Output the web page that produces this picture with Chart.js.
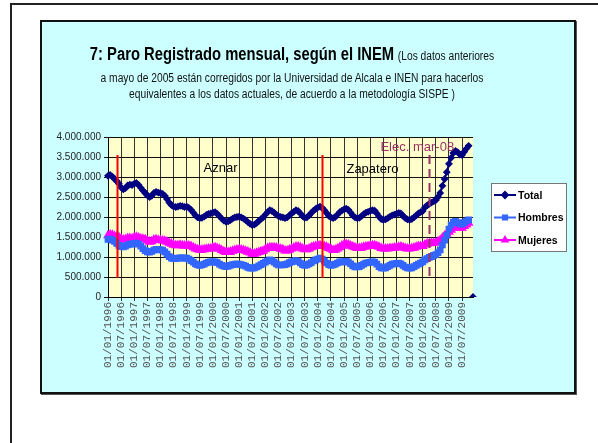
<!DOCTYPE html>
<html>
<head>
<meta charset="utf-8">
<script src="https://cdn.jsdelivr.net/npm/chart.js@4.4.1/dist/chart.umd.min.js"></script>
<style>
  body { margin:0; background:#fff; width:598px; height:443px; overflow:hidden; position:relative; font-family:"Liberation Sans", Arial, sans-serif; }
  #marco { position:absolute; left:10px; top:3px; width:700px; height:600px; border:2px solid #222; }
  #caja { position:absolute; left:40px; top:20px; width:532px; height:370px; background:#ccffff; border:2px solid #111; box-shadow:1px 1px 0 #555; }
  #grafico { position:absolute; left:0; top:0; }
  .tit { position:absolute; left:0; width:500px; text-align:center; white-space:nowrap; transform:scaleX(0.82); color:#111; }
  .big { font-weight:bold; font-size:18px; color:#000; }
  .small { font-size:12.5px; }
</style>
</head>
<body>
<div id="marco"></div>
<div id="caja">
  <canvas id="grafico" width="532" height="370"></canvas>
  <div class="tit" style="top:22px;line-height:20px"><span class="big">7: Paro Registrado mensual, según el INEM</span> <span class="small">(Los datos anteriores</span></div>
  <div class="tit small" style="top:48px;line-height:16px">a mayo de 2005 están corregidos por la Universidad de Alcala e INEN para hacerlos</div>
  <div class="tit small" style="top:64px;line-height:16px">equivalentes a los datos actuales, de acuerdo a la metodología SISPE )</div>
</div>
<script>
// etiquetas mensuales 01/01/1996 ... 01/12/2009
var meses = [];
for (var a = 1996; a <= 2009; a++) {
  for (var m = 1; m <= 12; m++) {
    meses.push('01/' + (m < 10 ? '0' + m : m) + '/' + a);
  }
}

// paro registrado, en miles
var total = [
  3030,3050,3010,2950,2900,2830,2740,2690,2720,2790,2810,2800, // 1996
  2830,2850,2800,2730,2660,2600,2540,2500,2530,2600,2630,2610, // 1997
  2600,2580,2530,2450,2360,2300,2260,2250,2260,2280,2270,2250, // 1998
  2260,2230,2180,2110,2040,1990,1970,1980,2010,2050,2080,2090, // 1999
  2110,2120,2080,2020,1960,1910,1880,1890,1920,1960,1990,2000, // 2000
  2010,1990,1960,1920,1870,1830,1800,1810,1850,1900,1950,1990, // 2001
  2060,2120,2170,2150,2110,2060,2020,2000,1990,1970,1990,2040, // 2002
  2090,2130,2170,2150,2090,2020,1980,1990,2040,2100,2160,2200, // 2003
  2240,2260,2230,2170,2100,2030,1990,1970,2000,2060,2120,2160, // 2004
  2190,2210,2180,2110,2040,1990,1970,1980,2020,2070,2110,2130, // 2005
  2150,2170,2160,2090,2010,1950,1930,1940,1970,2010,2040,2060, // 2006
  2080,2100,2090,2030,1970,1940,1930,1950,1990,2040,2090,2120, // 2007
  2150,2240,2290,2330,2360,2390,2420,2500,2600,2780,2950,3120, // 2008
  3330,3480,3600,3650,3620,3560,3550,3630,3710,3780,null,0     // 2009
];
var hombres = [
  1440,1450,1420,1390,1340,1290,1260,1250,1270,1300,1320,1320, // 1996
  1340,1350,1320,1270,1210,1160,1130,1120,1140,1170,1190,1190, // 1997
  1180,1170,1130,1070,1010,970,960,960,970,980,980,970,        // 1998
  970,950,910,870,830,800,790,800,820,850,870,880,             // 1999
  880,880,860,820,790,770,760,770,790,810,820,820,             // 2000
  820,810,790,770,740,720,720,730,750,780,810,840,             // 2001
  870,900,930,910,870,830,800,800,800,810,830,860,             // 2002
  880,900,910,890,850,810,790,800,830,860,900,930,             // 2003
  950,970,950,900,850,810,790,800,820,850,880,880,             // 2004
  880,890,870,830,780,750,750,760,790,820,850,860,             // 2005
  870,880,870,820,760,730,720,730,760,790,820,830,             // 2006
  840,850,830,790,750,730,720,730,760,790,820,850,             // 2007
  880,930,960,990,1010,1040,1060,1110,1180,1300,1420,1540,     // 2008
  1700,1800,1870,1890,1860,1830,1820,1860,1900,1930,null,null  // 2009
];
var mujeres = [
  1540,1560,1550,1520,1510,1490,1450,1430,1440,1470,1470,1460, // 1996
  1490,1500,1480,1460,1450,1440,1410,1380,1390,1430,1440,1420, // 1997
  1420,1410,1400,1380,1350,1330,1300,1290,1290,1300,1290,1280, // 1998
  1290,1280,1270,1240,1210,1190,1180,1180,1190,1200,1210,1210, // 1999
  1230,1240,1220,1200,1170,1140,1120,1120,1130,1150,1170,1180, // 2000
  1190,1180,1170,1150,1130,1110,1080,1080,1100,1120,1140,1150, // 2001
  1190,1220,1240,1240,1240,1230,1220,1200,1190,1160,1160,1180, // 2002
  1210,1230,1260,1260,1240,1210,1190,1190,1210,1240,1260,1270, // 2003
  1290,1290,1280,1270,1250,1220,1200,1170,1180,1210,1240,1280, // 2004
  1310,1320,1310,1280,1260,1240,1220,1220,1230,1250,1260,1270, // 2005
  1280,1290,1290,1270,1250,1220,1210,1210,1210,1220,1220,1230, // 2006
  1240,1250,1260,1240,1220,1210,1210,1220,1230,1250,1270,1270, // 2007
  1270,1310,1330,1340,1350,1350,1360,1390,1420,1480,1530,1580, // 2008
  1630,1680,1730,1760,1760,1730,1730,1770,1810,1850,null,null  // 2009
];

// lineas de cambio de gobierno (indice del mes) y textos
var mesesGobierno = [4, 98];
var mesElecciones = [147];
var textos = ['Aznar', 'Zapatero', 'Elec. mar-08'];
var textosMes = [51.5, 121, 141.5];
var textosValor = [3225, 3200, 3750];

function miles(v) {
  return (v * 1000).toString().replace(/\B(?=(\d{3})+(?!\d))/g, '.');
}

var pluginFondo = {
  id: 'fondo',
  beforeDraw: function(chart) {
    var c = chart.ctx, ca = chart.chartArea;
    c.save();
    c.fillStyle = '#ffffcc';
    c.fillRect(ca.left, ca.top, ca.right - ca.left, ca.bottom - ca.top);
    c.restore();
  }
};

var pluginMarcas = {
  id: 'marcas',
  afterDatasetsDraw: function(chart) {
    var c = chart.ctx, x = chart.scales.x, y = chart.scales.y;
    c.save();
    c.lineWidth = 2;
    c.strokeStyle = '#ff0000';
    mesesGobierno.forEach(function(i) {
      var px = Math.round(x.getPixelForValue(i)) + 0.5;
      c.beginPath();
      c.moveTo(px, y.getPixelForValue(3550));
      c.lineTo(px, y.getPixelForValue(480));
      c.stroke();
    });
    c.strokeStyle = '#993366';
    c.setLineDash([9, 5]);
    mesElecciones.forEach(function(i) {
      var px = Math.round(x.getPixelForValue(i)) + 0.5;
      c.beginPath();
      c.moveTo(px, y.getPixelForValue(3550));
      c.lineTo(px, y.getPixelForValue(480));
      c.stroke();
    });
    c.setLineDash([]);
    c.textAlign = 'center';
    c.textBaseline = 'middle';
    for (var k = 0; k < textos.length; k++) {
      c.font = '13px "Liberation Sans", Arial';
      c.fillStyle = k == 2 ? '#993366' : '#000';
      c.fillText(textos[k], x.getPixelForValue(textosMes[k]), y.getPixelForValue(textosValor[k]));
    }
    c.restore();
  }
};

var pluginLeyenda = {
  id: 'leyenda',
  afterDraw: function(chart) {
    var c = chart.ctx;
    var bx = 449, by = 161, bw = 75, bh = 68;
    c.save();
    c.fillStyle = '#fff';
    c.fillRect(bx, by, bw, bh);
    c.strokeStyle = '#777';
    c.lineWidth = 1;
    c.strokeRect(bx + 0.5, by + 0.5, bw, bh);
    chart.data.datasets.forEach(function(ds, k) {
      var yy = by + 12 + k * 22.5;
      c.strokeStyle = ds.borderColor;
      c.lineWidth = 2;
      c.beginPath();
      c.moveTo(bx + 3, yy);
      c.lineTo(bx + 25, yy);
      c.stroke();
      c.fillStyle = ds.borderColor;
      Chart.helpers.drawPoint(c, { pointStyle: ds.pointStyle, radius: 3, rotation: 0, borderWidth: 1 }, bx + 14, yy);
      c.fillStyle = '#000';
      c.font = 'bold 10.5px "Liberation Sans", Arial';
      c.textBaseline = 'middle';
      c.fillText(ds.label, bx + 27, yy + 1);
    });
    c.restore();
  }
};

var ctx = document.getElementById('grafico').getContext('2d');
var chart = new Chart(ctx, {
  type: 'line',
  data: {
    labels: meses,
    datasets: [{
      label: 'Total',
      data: total,
      borderColor: '#000080',
      backgroundColor: '#000080',
      pointStyle: 'rectRot',
      pointRadius: 2.5,
      borderWidth: 2
    }, {
      label: 'Hombres',
      data: hombres,
      borderColor: '#3366ff',
      backgroundColor: '#3366ff',
      pointStyle: 'rect',
      pointRadius: 3,
      borderWidth: 2.5
    }, {
      label: 'Mujeres',
      data: mujeres,
      borderColor: '#ff00ff',
      backgroundColor: '#ff00ff',
      pointStyle: 'triangle',
      pointRadius: 3.2,
      borderWidth: 2.5
    }]
  },
  options: {
    responsive: false,
    animation: false,
    spanGaps: false,
    layout: { padding: { left: 0, top: 115, right: 101, bottom: 0 } },
    plugins: { legend: { display: false }, title: { display: false }, tooltip: { enabled: false } },
    elements: { line: { tension: 0 }, point: { borderWidth: 1 } },
    scales: {
      x: {
        type: 'category',
        offset: false,
        afterFit: function(s) { s.height = 95; },
        grid: { color: '#333', lineWidth: 1, tickLength: 4, drawOnChartArea: true },
        border: { color: '#000', width: 1 },
        ticks: {
          autoSkip: false, maxRotation: 90, minRotation: 90, padding: 1,
          color: '#555',
          font: { family: '"Liberation Mono", monospace', size: 11 },
          callback: function(v, i) { return i % 6 === 0 ? meses[i] : null; }
        }
      },
      y: {
        min: 0, max: 4000,
        afterFit: function(s) { s.width = 66; },
        grid: { color: '#111', lineWidth: 1, tickLength: 4 },
        border: { color: '#000', width: 1 },
        ticks: {
          stepSize: 500, padding: 3, color: '#222',
          font: { family: '"Liberation Sans", Arial', size: 10 },
          callback: function(v) { return miles(v); }
        }
      }
    }
  },
  plugins: [pluginFondo, pluginMarcas, pluginLeyenda]
});
</script>
</body>
</html>
